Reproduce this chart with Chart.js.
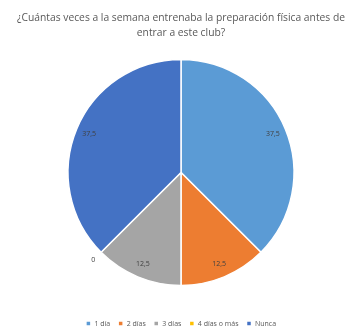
<!DOCTYPE html>
<html>
<head>
<meta charset="utf-8">
<script src="https://cdn.jsdelivr.net/npm/chart.js@4.4.0/dist/chart.umd.min.js"></script>
<style>
  html, body { margin: 0; padding: 0; background: #fff; }
  #wrap { width: 346px; height: 329px; }
</style>
</head>
<body>
<div id="wrap"><canvas id="pie"></canvas></div>
<script>
const categories = ['1 día', '2 días', '3 días', '4 días o más', 'Nunca'];
const values = [37.5, 12.5, 12.5, 0, 37.5];
const valueLabels = ['37,5', '12,5', '12,5', '0', '37,5'];
const sliceColors = ['#5B9BD5', '#ED7D31', '#A5A5A5', '#FFC000', '#4472C4'];
const titleLines = ['¿Cuántas veces a la semana entrenaba la preparación física antes de', 'entrar a este club?'];

// value labels near the rim, zero slices just outside
const sliceLabels = {
  id: 'sliceLabels',
  afterDatasetsDraw(chart) {
    const ctx = chart.ctx;
    const meta = chart.getDatasetMeta(0);
    ctx.save();
    ctx.font = '7px "Open Sans", sans-serif';
    ctx.fillStyle = '#404040';
    ctx.textAlign = 'center';
    ctx.textBaseline = 'middle';
    meta.data.forEach((arc, i) => {
      const p = arc.getProps(['x', 'y', 'startAngle', 'endAngle', 'outerRadius'], true);
      const mid = (p.startAngle + p.endAngle) / 2;
      const r = values[i] === 0 ? p.outerRadius + 11 : p.outerRadius * 0.88;
      ctx.fillText(valueLabels[i], p.x + Math.cos(mid) * r, p.y + Math.sin(mid) * r);
    });
    ctx.restore();
  }
};

new Chart(document.getElementById('pie'), {
  type: 'pie',
  data: {
    labels: categories,
    datasets: [{
      data: values,
      backgroundColor: sliceColors,
      borderColor: '#ffffff',
      borderWidth: 1.5
    }]
  },
  options: {
    responsive: true,
    maintainAspectRatio: false,
    animation: false,
    radius: 113,
    layout: { padding: { top: 0, bottom: -8, left: 16, right: 0 } },
    plugins: {
      title: {
        display: true,
        text: titleLines,
        color: '#595959',
        font: { family: '"Open Sans", sans-serif', size: 10.3, weight: 'normal', lineHeight: 1.4 },
        padding: { top: 11, bottom: -7 }
      },
      legend: {
        position: 'bottom',
        labels: {
          color: '#595959',
          font: { family: '"Open Sans", sans-serif', size: 7 },
          boxWidth: 5,
          boxHeight: 5,
          padding: 8
        }
      },
      tooltip: { enabled: false }
    }
  },
  plugins: [sliceLabels]
});
</script>
</body>
</html>
